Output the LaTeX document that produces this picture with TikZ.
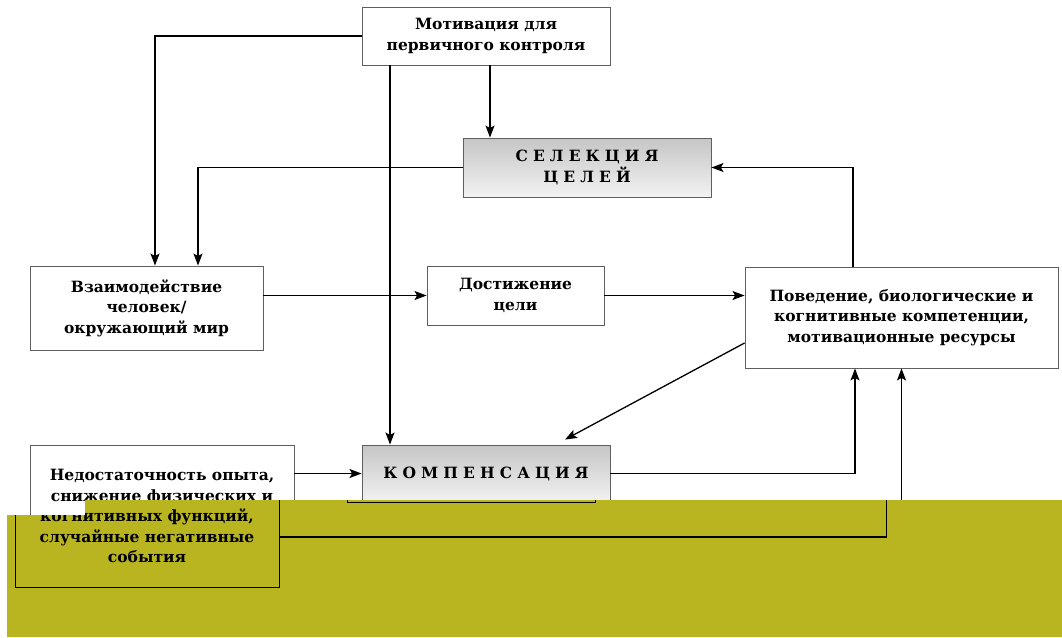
\documentclass[tikz,border=0pt]{standalone}
\usepackage{fontspec}
\setmainfont{DejaVu Serif}
\newfontfamily\spacedcaps[LetterSpace=33]{DejaVu Serif}
\usetikzlibrary{arrows.meta}
\definecolor{boxline}{RGB}{95,95,95}
\definecolor{patch}{RGB}{185,181,32}
\tikzset{
  box/.style={draw=boxline, line width=0.9pt, fill=white, align=center, inner sep=0pt,
    font=\fontsize{15.5}{20.5}\selectfont\bfseries},
  tinted/.style={top color=gray!45, bottom color=gray!10},
  caps/.style={font=\fontsize{15.5}{20.5}\selectfont\spacedcaps\bfseries},
  link/.style={-{Stealth[length=12pt,width=9pt,inset=2.5pt]}, line width=1.3pt},
  shifted/.style={draw=black, fill=none},
}
\begin{document}
\begin{tikzpicture}[x=1pt,y=-1pt]
\useasboundingbox (0,0) rectangle (1062,637);
\fill[white] (0,0) rectangle (1062,637);
\node[box, minimum width=248pt, minimum height=58pt] (mot) at (486,36)
  {Мотивация для\\первичного контроля};
\node[box, tinted, caps, minimum width=248pt, minimum height=59pt] (sel) at (587,167.5)
  {СЕЛЕКЦИЯ\\ЦЕЛЕЙ};
\node[box, minimum width=233pt, minimum height=84pt] (inter) at (146.5,308)
  {Взаимодействие\\человек/\\окружающий мир};
\node[box, minimum width=177pt, minimum height=59pt] (goal) at (515.5,295.5)
  {Достижение\\цели};
\node[box, minimum width=313pt, minimum height=101pt] (beh) at (901.5,317.5)
  {Поведение, биологические и\\когнитивные компетенции,\\мотивационные ресурсы};
\node[box, minimum width=264pt, minimum height=142pt] (def) at (162,516)
  {Недостаточность опыта,\\снижение физических и\\\phantom{когнитивных функций,}\\
   \phantom{случайные негативные}\\\phantom{события}};
\node[box, tinted, caps, minimum width=248pt, minimum height=57pt] (comp) at (486,473.5)
  {КОМПЕНСАЦИЯ};
% connectors
\draw[link] (mot.west) -| ([xshift=8.5pt]inter.north);
\draw[link] (sel.west) -| ([xshift=51.5pt]inter.north);
\draw[link] ([xshift=4pt]mot.south) -- ([xshift=-97pt]sel.north);
\draw[link] ([xshift=-96pt]mot.south) -- ([xshift=-96pt]comp.north);
\draw[link] (inter.east |- goal.west) -- (goal.west);
\draw[link] (goal.east) -- (goal.east -| beh.west);
\draw[link] ([xshift=-48.5pt]beh.north) |- (sel.east);
\draw[link] ([yshift=-25.5pt]beh.west) -- ([xshift=79pt,yshift=5pt]comp.north);
\draw[link] (def.east |- comp.west) -- (comp.west);
\draw[link] (comp.east) -| ([xshift=-46.5pt]beh.south);
\draw[link] ([yshift=-21pt]def.east) -| (beh.south);
% the olive band over the lower part, with the lower part redrawn shifted
\fill[patch] (7,515) -- (85,515) -- (85,500) -- (1062,500) -- (1062,637) -- (7,637) -- cycle;
\begin{scope}
  \clip (7,515) -- (85,515) -- (85,500) -- (1062,500) -- (1062,637) -- (7,637) -- cycle;
  \begin{scope}[xshift=-15pt]
    \node[box, shifted, minimum width=264pt, minimum height=142pt] (deflow) at (162,516)
      {\phantom{Недостаточность опыта,}\\\phantom{снижение физических и}\\когнитивных функций,\\
       случайные негативные\\события};
    \node[box, shifted, minimum width=248pt, minimum height=57pt] (complow) at (486,473.5) {};
    \draw[line width=1.3pt] ([yshift=-21pt]deflow.east) -| ([xshift=-15pt]beh.south);
  \end{scope}
\end{scope}
\end{tikzpicture}
\end{document}
